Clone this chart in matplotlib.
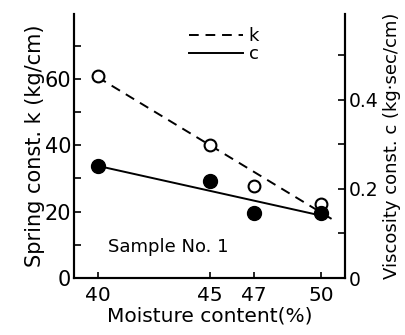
import matplotlib
matplotlib.use("Agg")
import matplotlib.pyplot as plt
from matplotlib.lines import Line2D

# Data
moisture = [40, 45, 47, 50]
k_values = [60.8, 40.0, 27.7, 22.3]      # spring const. k (kg/cm), open circles
c_values = [0.252, 0.218, 0.146, 0.146]  # viscosity const. c (kg.sec/cm), filled circles
k_fit_x = [40, 50.45]
k_fit_y = [60.5, 17.8]
c_fit_x = [40, 50]
c_fit_y = [0.252, 0.140]
x_ticks = [40, 45, 47, 50]
k_ticks = [0, 20, 40, 60]
c_ticks = [0, 0.2, 0.4]
c_tick_labels = ["0", "0.2", "0.4"]

plt.rcParams['font.family'] = ['DejaVu Sans']

fig = plt.figure(figsize=(4.05, 3.35), dpi=100)
ax = fig.add_axes([74/405, 57/335, (345-74)/405, (278-14)/335])
ax2 = ax.twinx()

ax.set_xlim(38.95, 51.05)
ax.set_ylim(0, 79.5)
ax2.set_ylim(0, 0.593)

# k series
ax.plot(k_fit_x, k_fit_y, color='black', lw=1.4, ls=(0, (5, 3.5)))
ax.plot(moisture, k_values, ls='none', marker='o', ms=8.5, mfc='white',
        mec='black', mew=1.5, zorder=5)
# c series
ax2.plot(c_fit_x, c_fit_y, color='black', lw=1.4)
ax2.plot(moisture, c_values, ls='none', marker='o', ms=10, mfc='black',
         mec='black', zorder=5)

for a in (ax, ax2):
    a.spines['top'].set_visible(False)
    for s in a.spines.values():
        s.set_linewidth(1.5)

ax.set_xticks(x_ticks)
ax.set_xticklabels([str(v) for v in x_ticks])
ax.set_yticks(k_ticks)
ax.set_yticks([10, 30, 50, 70], minor=True)
ax.tick_params(axis='x', direction='in', length=4, width=1.2, pad=6, labelsize=14.5)
ax.tick_params(axis='y', which='major', direction='in', length=5, width=1.2, pad=2, labelsize=15)
ax.tick_params(axis='y', which='minor', direction='in', length=5, width=1.2)

ax2.set_yticks(c_ticks)
ax2.set_yticklabels(c_tick_labels)
ax2.set_yticks([0.1, 0.3, 0.5], minor=True)
ax2.tick_params(axis='y', which='major', direction='in', length=5, width=1.2, pad=3, labelsize=13.5)
ax2.tick_params(axis='y', which='minor', direction='in', length=5, width=1.2)

ax.set_xlabel('Moisture content(%)', fontsize=14.5, labelpad=1)
ax.set_ylabel('Spring const. k (kg/cm)', fontsize=15, labelpad=0)
ax2.set_ylabel('Viscosity const. c (kg·sec/cm)', fontsize=13, rotation=90, labelpad=3)

ax.text(40.45, 9.2, 'Sample No. 1', fontsize=13, ha='left', va='center')

handles = [Line2D([], [], color='black', lw=1.4, ls=(0, (5, 3.5))),
           Line2D([], [], color='black', lw=1.4)]
fig.legend(handles, ['k', 'c'], loc='upper left', bbox_to_anchor=(189/405, 1 - 27/335),
           frameon=False, fontsize=13, handlelength=3.0, handletextpad=0.3,
           labelspacing=0.0, borderpad=0, borderaxespad=0)

fig.savefig('out.png', dpi=100)
